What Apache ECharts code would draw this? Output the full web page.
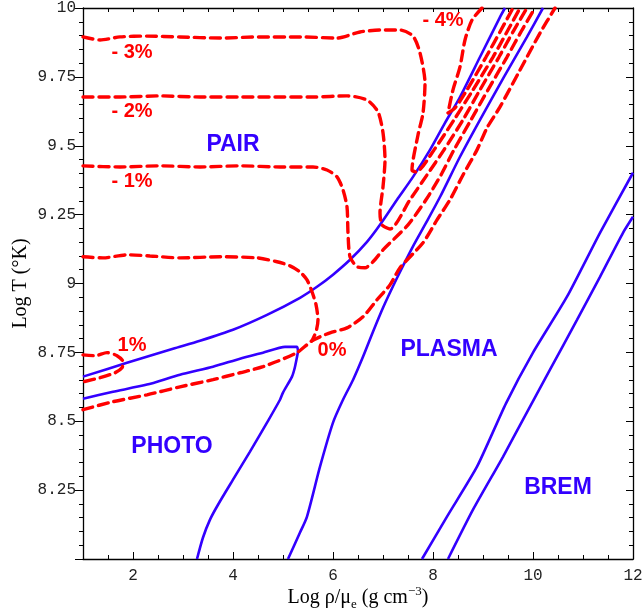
<!DOCTYPE html>
<html>
<head>
<meta charset="utf-8">
<script src="https://cdn.jsdelivr.net/npm/echarts@6/dist/echarts.min.js"></script>
<style>html,body{margin:0;padding:0;background:#fff}#c{width:643px;height:611px}</style>
</head>
<body>
<div id="c"></div>
<script>
// ---- data (log rho/mu_e, log T) ----
const xTickLabels = [2, 4, 6, 8, 10, 12];

const blueUpper = [[1,8.662],[1.88,8.712],[2.8,8.763],[3.34,8.792],[4.0,8.832],[4.68,8.886],[5.34,8.948],[5.68,8.988],[6.0,9.032],[6.34,9.086],[6.68,9.151],[6.94,9.213],[7.28,9.304],[7.6,9.387],[7.94,9.485],[8.24,9.583],[8.54,9.677],[8.94,9.822],[9.34,9.967],[9.44,10]];
const bluePhotoTop = [[1,8.582],[1.6,8.607],[2.28,8.633],[2.94,8.669],[3.6,8.698],[4.14,8.727],[4.6,8.749],[5.04,8.770],[5.28,8.770],[5.3,8.752]];
const bluePhotoSide = [[5.3,8.752],[5.24,8.698],[5.18,8.662],[5.0,8.604],[4.94,8.578],[4.68,8.495],[4.34,8.390],[4.0,8.288],[3.7,8.197],[3.54,8.143],[3.4,8.078],[3.28,8.0]];
const bluePlasma = [[5.1,8.0],[5.34,8.096],[5.48,8.154],[5.74,8.335],[6.0,8.495],[6.2,8.578],[6.4,8.650],[6.6,8.734],[6.8,8.825],[7.0,8.912],[7.2,8.990],[7.4,9.064],[7.6,9.135],[7.86,9.220],[8.14,9.314],[8.54,9.460],[8.94,9.594],[9.42,9.750],[9.88,9.895],[10.2,10]];
const bremLeft = [[7.78,8.0],[8.28,8.154],[8.88,8.335],[9.46,8.565],[10.0,8.749],[10.68,8.952],[11.34,9.184],[12,9.402]];
const bremRight = [[8.3,8.0],[8.8,8.179],[9.4,8.371],[9.8,8.506],[10.34,8.687],[10.88,8.868],[11.34,9.024],[11.8,9.184],[12,9.242]];

const contM4 = [[8.98,10],[8.78,9.956],[8.64,9.884],[8.54,9.786],[8.4,9.703],[8.3,9.619],[8.44,9.637],[8.68,9.703],[9.06,9.822],[9.36,9.920],[9.6,10]];
const contM3 = [[1,9.895],[1.34,9.884],[1.74,9.895],[2.28,9.898],[2.94,9.895],[3.74,9.891],[4.54,9.895],[5.34,9.895],[6.08,9.891],[6.54,9.913],[6.94,9.920],[7.34,9.920],[7.6,9.898],[7.74,9.837],[7.84,9.728],[7.8,9.619],[7.7,9.539],[7.58,9.412],[7.66,9.405],[8.02,9.485],[8.42,9.594],[8.8,9.703],[9.2,9.822],[9.5,9.920],[9.74,10]];
const contM2 = [[1,9.677],[1.74,9.677],[2.54,9.681],[3.34,9.677],[4.14,9.677],[4.94,9.677],[5.6,9.677],[6.28,9.681],[6.68,9.666],[6.9,9.623],[7.0,9.547],[7.04,9.449],[7.0,9.351],[6.94,9.256],[6.98,9.213],[7.14,9.198],[7.54,9.304],[7.88,9.394],[8.22,9.485],[8.6,9.594],[8.94,9.703],[9.32,9.822],[9.62,9.920],[9.88,10]];
const contM1 = [[1,9.427],[1.74,9.423],[2.54,9.427],[3.34,9.423],[4.14,9.427],[4.94,9.423],[5.6,9.423],[5.88,9.412],[6.08,9.387],[6.2,9.340],[6.28,9.278],[6.3,9.184],[6.34,9.097],[6.48,9.061],[6.64,9.057],[6.8,9.079],[7.0,9.122],[7.5,9.213],[7.86,9.304],[8.16,9.394],[8.42,9.485],[8.76,9.594],[9.1,9.703],[9.48,9.822],[9.78,9.920],[10.04,10]];
const contZeroUpper = [[1,9.097],[1.4,9.093],[1.88,9.104],[2.34,9.100],[2.94,9.093],[3.74,9.097],[4.48,9.093],[4.88,9.079],[5.14,9.064],[5.34,9.042],[5.48,9.013],[5.58,8.970],[5.66,8.923],[5.7,8.868],[5.66,8.825],[5.58,8.792]];
const contZeroLower = [[1,8.542],[1.6,8.571],[2.28,8.596],[2.94,8.625],[3.6,8.651],[4.14,8.676],[4.6,8.698],[5.28,8.749],[5.58,8.792],[5.94,8.821],[6.28,8.839],[6.6,8.879],[6.88,8.941],[7.14,8.995],[7.34,9.057],[7.8,9.148],[8.08,9.231],[8.34,9.304],[8.6,9.394],[8.88,9.485],[9.08,9.565],[9.34,9.641],[9.74,9.775],[10.14,9.909],[10.44,10]];
const contP1 = [[1,8.741],[1.24,8.738],[1.48,8.749],[1.68,8.738],[1.8,8.716],[1.78,8.694],[1.64,8.676],[1.34,8.658],[1,8.643]];

const regionNames = ['PAIR', 'PHOTO', 'PLASMA', 'BREM'];
const regionX = [4.0, 2.78, 8.32, 10.5];
const regionY = [9.503, 8.408, 8.76, 8.259];
const pctNames = ['- 3%', '- 2%', '- 1%', '1%', '0%', '- 4%'];
const pctX = [1.98, 1.98, 1.98, 1.98, 5.98, 8.2];
const pctY = [9.837, 9.623, 9.372, 8.774, 8.756, 9.953];

// ---- styles ----
const BLUE = '#3300ff';
const RED = '#ff0000';
const blueLine = (d, smooth) => ({type:'line', data:d, showSymbol:false, symbol:'none', smooth:smooth, lineStyle:{color:BLUE, width:2.6}, z:3, animation:false});
const redLine = (d) => ({type:'line', data:d, showSymbol:false, symbol:'none', smooth:0.25, lineStyle:{color:RED, width:3.4, type:[10,6], cap:'round'}, z:4, animation:false});

const chart = echarts.init(document.getElementById('c'), null, {renderer:'canvas'});
const mono = 'Liberation Mono';
const axisCommon = {type:'value', splitLine:{show:false}, minorSplitLine:{show:false}};
const monoRich = {m:{fontFamily:mono, fontSize:16, color:'#222'}};
const monoFmt = v => '{m|' + v + '}';

chart.setOption({
  backgroundColor:'#fff',
  animation:false,
  textStyle:{fontFamily:mono},
  grid:{left:83, right:10, top:8, bottom:52, containLabel:false, outerBoundsMode:'none'},
  xAxis:[
    Object.assign({}, axisCommon, {min:1, max:12, position:'bottom',
      axisLine:{show:true, onZero:false, lineStyle:{color:'#000', width:1.3}},
      axisTick:{show:true, inside:true, length:7, customValues:xTickLabels, lineStyle:{color:'#000'}},
      axisLabel:{show:true, customValues:xTickLabels, fontFamily:mono, fontSize:16, color:'#222', margin:9, formatter:monoFmt, rich:monoRich},
      name:'{a|Log ρ/μ}{s|e}{a| (g cm}{p|−3}{a|)}', nameLocation:'middle', nameGap:26, nameMoveOverlap:false,
      nameTextStyle:{fontFamily:'Liberation Serif', fontSize:20, color:'#000',
        rich:{a:{fontFamily:'Liberation Serif', fontSize:20, color:'#000', lineHeight:26},
              s:{fontFamily:'Liberation Serif', fontSize:13, color:'#000', verticalAlign:'bottom', lineHeight:20},
              p:{fontFamily:'Liberation Serif', fontSize:13, color:'#000', verticalAlign:'top', lineHeight:20}}}}),
    Object.assign({}, axisCommon, {min:1, max:12, interval:0.5, position:'bottom', offset:0,
      axisLine:{show:false}, axisTick:{show:true, inside:true, length:4, lineStyle:{color:'#000'}},
      axisLabel:{show:false}}),
    Object.assign({}, axisCommon, {min:1, max:12, interval:0.5, position:'top', offset:0,
      axisLine:{show:true, onZero:false, lineStyle:{color:'#000', width:1.3}},
      axisTick:{show:true, inside:true, length:4, lineStyle:{color:'#000'}},
      axisLabel:{show:false}})
  ],
  yAxis:[
    Object.assign({}, axisCommon, {min:8, max:10, interval:0.25, position:'left',
      axisLine:{show:true, onZero:false, lineStyle:{color:'#000', width:1.3}},
      axisTick:{show:true, inside:false, length:8, lineStyle:{color:'#000'}},
      minorTick:{show:true, splitNumber:5, length:4, lineStyle:{color:'#000'}},
      axisLabel:{show:true, showMinLabel:false, fontFamily:mono, fontSize:16, color:'#222', margin:7, formatter:monoFmt, rich:monoRich},
      name:'Log T (°K)', nameLocation:'middle', nameGap:52, nameRotate:90, nameMoveOverlap:false,
      nameTextStyle:{fontFamily:'Liberation Serif', fontSize:20, color:'#000'}}),
    Object.assign({}, axisCommon, {min:8, max:10, interval:0.25, position:'right',
      axisLine:{show:true, onZero:false, lineStyle:{color:'#000', width:1.3}},
      axisTick:{show:true, inside:true, length:7, lineStyle:{color:'#000'}},
      minorTick:{show:true, splitNumber:5, length:4, lineStyle:{color:'#000'}},
      axisLabel:{show:false}})
  ],
  series:[
    blueLine(blueUpper, 0.25),
    blueLine(bluePhotoTop, 0.2),
    blueLine(bluePhotoSide, 0.25),
    blueLine(bluePlasma, 0.25),
    blueLine(bremLeft, 0.2),
    blueLine(bremRight, 0.2),
    redLine(contM4), redLine(contM3), redLine(contM2), redLine(contM1),
    redLine(contZeroUpper), redLine(contZeroLower), redLine(contP1)
  ]
});

// annotation texts placed at data coordinates
const txt = [];
regionNames.forEach((n,i) => {
  const p = chart.convertToPixel({gridIndex:0}, [regionX[i], regionY[i]]);
  txt.push({type:'text', x:p[0], y:p[1], z:20, style:{text:n, fill:BLUE, font:'bold 23px "Liberation Sans"', align:'center', verticalAlign:'middle'}});
});
pctNames.forEach((n,i) => {
  const p = chart.convertToPixel({gridIndex:0}, [pctX[i], pctY[i]]);
  txt.push({type:'text', x:p[0], y:p[1], z:20, style:{text:n, fill:RED, font:'bold 20px "Liberation Sans"', align:'center', verticalAlign:'middle'}});
});
chart.setOption({graphic:txt});
</script>
</body>
</html>
